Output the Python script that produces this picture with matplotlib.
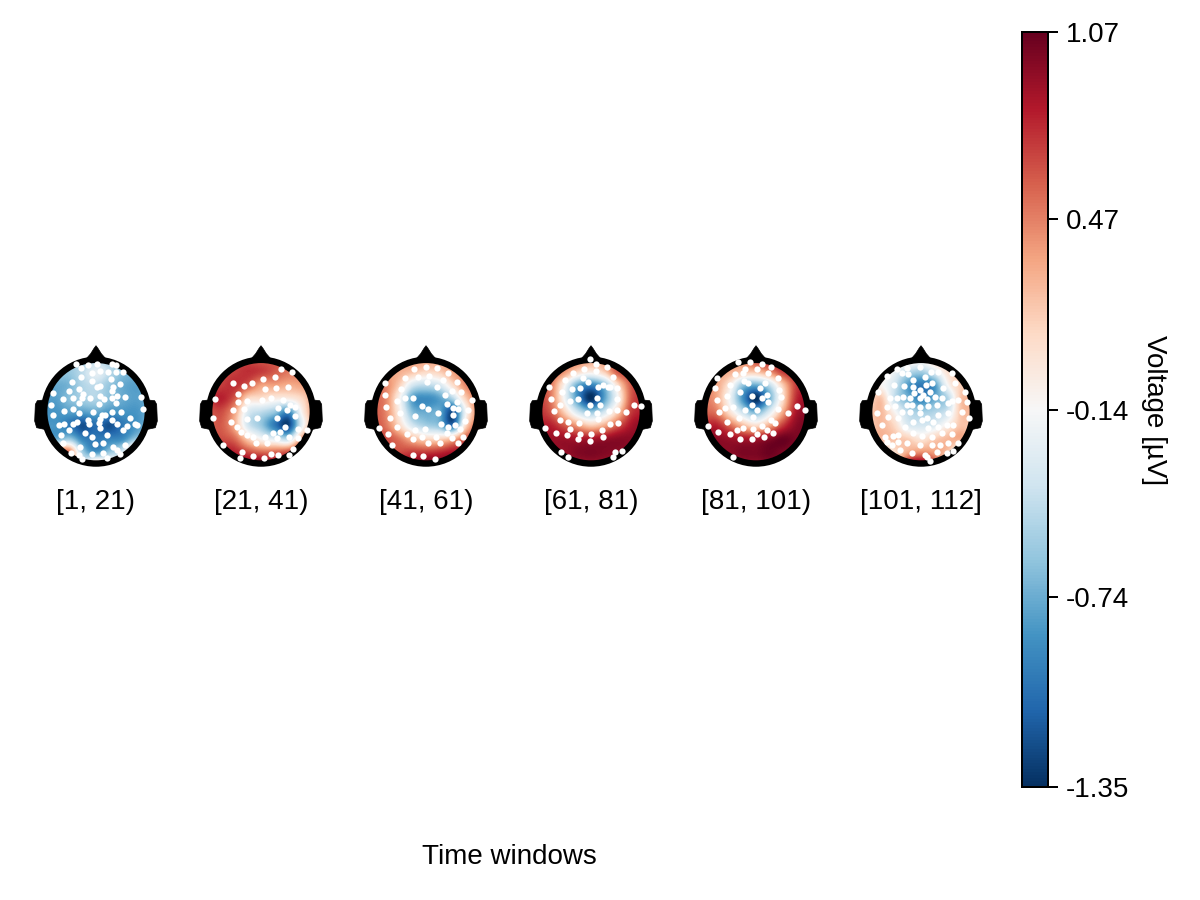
import numpy as np
import matplotlib
matplotlib.use("Agg")
import matplotlib.pyplot as plt
from matplotlib.patches import Circle, Polygon
from matplotlib.cm import ScalarMappable
from matplotlib.colors import Normalize

plt.rcParams['font.family'] = ['Liberation Sans', 'DejaVu Sans']

W, H = 1200, 900
VMIN, VMAX = -1.35, 1.07
CBAR_TICKS = [-1.35, -0.74, -0.14, 0.47, 1.07]
CBAR_LABELS = ['-1.35', '-0.74', '-0.14', '0.47', '1.07']
WINDOW_LABELS = ['[1, 21)', '[21, 41)', '[41, 61)', '[61, 81)', '[81, 101)', '[101, 112]']

FIELD_1 = [[-.6, -.6, -.6, -.55, -.5, -.55, -.6, -.6, -.6],
           [-.6, -.6, -.6, -.45, -.25, -.45, -.65, -.7, -.7],
           [-.75, -.75, -.7, -.5, -.45, -.6, -.75, -.8, -.75],
           [-.8, -.8, -.65, -.55, -.5, -.65, -.75, -.8, -.75],
           [-.85, -.85, -.8, -.8, -.75, -.85, -.85, -.85, -.75],
           [-.85, -.85, -1., -1.2, -1.05, -1.2, -1., -.85, -.7],
           [-.7, -.75, -.6, -.95, -1., -.95, -.9, -.6, -.5],
           [.35, .45, .5, -.55, -.85, -.6, -.35, .35, .3],
           [.45, .5, .35, -.25, .35, .1, -.3, .4, .4]]
FIELD_2 = [[.6, .6, .65, .65, .6, .6, .5, .4, .4],
           [.6, .65, .7, .75, .7, .6, .5, .45, .4],
           [.65, .7, .75, .6, .35, .35, .3, .35, .4],
           [.7, .8, .6, .1, .05, -.05, -.05, .1, .4],
           [.6, .65, .35, -.3, -.45, -.6, -.9, -.1, .4],
           [.55, .6, .3, -.35, -.6, -1., -1.25, -.25, .4],
           [.65, .65, .55, .15, -.15, -.3, -.45, .35, .7],
           [.8, .85, .8, .65, .55, .55, .65, .9, 1.],
           [.95, 1., 1., 1., 1.05, .85, .9, .95, 1.]]
FIELD_3 = [[.3, .3, .3, .35, .35, .35, .4, .45, .55],
           [.4, .35, .3, .2, .1, .15, .35, .5, .6],
           [.5, .45, .15, -.35, -.45, -.35, .05, .45, .6],
           [.55, .45, -.1, -.8, -.9, -.8, -.5, .15, .55],
           [.6, .45, -.05, -.65, -.75, -.75, -1.2, -.15, .5],
           [.65, .5, .1, -.35, -.55, -.65, -1.05, .1, .6],
           [.7, .65, .5, .25, .1, .1, .25, .6, .8],
           [.75, .6, .65, .7, .7, .75, .85, .95, 1.],
           [.85, .8, .9, .95, 1.05, 1., 1., 1., 1.]]
FIELD_4 = [[.5, .5, .55, .5, .35, .35, .6, .7, .7],
           [.6, .6, .4, .1, -.05, .15, .6, .7, .75],
           [.65, .5, -.1, -.75, -.95, -.65, .05, .6, .75],
           [.7, .5, -.15, -.85, -1.35, -.8, -.15, .6, .75],
           [.75, .6, .15, -.35, -.6, -.35, .15, .7, .8],
           [.8, .8, .6, .35, .15, .3, .6, .85, .95],
           [.9, .9, .9, .85, .85, .9, .95, .95, .9],
           [.9, .92, .92, .98, 1.0, .98, .95, .9, .85],
           [.9, .9, .88, .88, .9, .88, .85, .85, .85]]
FIELD_5 = [[.3, .3, .35, .4, .7, .8, .8, .8, .8],
           [.35, .35, .3, .2, .2, .4, .7, .8, .85],
           [.45, .35, .0, -.6, -.75, -.45, .15, .7, .85],
           [.5, .35, -.15, -.85, -1.35, -.75, .05, .75, .9],
           [.55, .5, .05, -.4, -.7, -.3, .3, .85, .95],
           [.75, .8, .55, .25, .05, .3, .7, .95, 1.],
           [.95, .95, .9, .85, .85, .95, 1.05, 1., .95],
           [.95, .95, .95, 1.0, 1.0, 1.05, 1., .95, .95],
           [.9, .9, .85, .9, .92, .95, .95, .95, .95]]
FIELD_6 = [[.05, .05, .1, .05, -.05, .1, .25, .3, .3],
           [.05, .05, -.2, -.45, -.55, -.3, .05, .25, .25],
           [.0, -.1, -.35, -.8, -1., -.85, -.15, .15, .05],
           [.05, .2, -.4, -.7, -.95, -.75, -.5, .2, .25],
           [.15, .25, -.1, -.45, -.55, -.5, -.35, .2, .25],
           [.15, .25, .1, -.3, -.35, -.3, -.05, .2, .15],
           [.25, .25, .2, .15, .0, .15, .25, .3, .05],
           [-.2, -.2, .05, .3, .4, .35, .2, -.3, -.45],
           [-.35, -.35, -.2, .9, 1.05, .7, -.1, -.4, -.4]]

# Significant electrodes, offsets from the head centre
SENS_1 = [(168,103),(204,105),(232,103),(276,103),(289,105),(183,115),(216,128),(240,122),(263,125),(288,127),(310,125),(182,140),(155,155),(216,153),(272,148),(300,162),(232,170),(240,168),(146,182),(178,178),(190,192),(280,172),(275,182),(98,190),(160,205),(185,203),(210,205),(240,198),(252,207),(275,205),(292,198),(315,200),(362,200),(130,207),(178,218),(92,224),(238,222),(288,220),(370,236),(132,243),(160,238),(178,248),(218,245),(245,255),(255,255),(275,245),(302,245),(98,254),(205,270),(172,275),(240,268),(275,270),(330,265),(118,285),(132,282),(148,300),(160,283),(208,282),(238,280),(240,295),(290,282),(320,288),(345,282),(350,285),(122,316),(195,310),(215,322),(262,315),(310,300),(128,340),(180,350),(225,342),(248,340),(280,350),(315,345),(152,368),(178,375),(215,372),(250,368),(262,385),(290,360),(300,372),(185,388)]
SENS_2 = [(783,117),(816,127),(730,148),(765,142),(697,160),(672,168),(638,160),(655,192),(735,178),(768,175),(805,172),(655,215),(680,212),(725,210),(752,205),(790,210),(810,225),(585,207),(640,240),(672,238),(825,230),(775,235),(578,265),(634,275),(680,268),(712,265),(770,265),(800,240),(825,258),(650,290),(662,305),(680,315),(700,320),(735,322),(760,310),(780,305),(795,290),(808,320),(833,298),(862,300),(835,325),(708,338),(740,340),(770,325),(818,357),(610,345),(665,365),(700,378),(733,383),(752,372),(775,375),(808,375),(660,385)]
SENS_3 = [(104,160),(228,112),(192,118),(262,115),(295,130),(203,140),(238,138),(165,143),(278,150),(320,155),(232,157),(260,172),(152,178),(190,205),(305,183),(333,187),(105,195),(140,213),(165,205),(285,195),(365,210),(320,215),(355,240),(108,230),(150,248),(215,228),(233,237),(290,222),(308,235),(325,238),(120,263),(195,258),(263,250),(310,255),(345,272),(272,283),(140,292),(195,300),(225,297),(295,290),(315,285),(330,298),(115,313),(170,312),(190,328),(215,320),(258,322),(290,310),(305,325),(338,322),(235,340),(270,338),(325,338),(188,376),(220,378),(255,387),(88,295),(125,345)]
SENS_4 = [(720,88),(738,102),(772,112),(703,118),(670,128),(738,122),(790,140),(645,150),(700,145),(715,155),(760,165),(775,170),(745,170),(690,175),(665,178),(598,172),(635,187),(630,225),(602,208),(660,213),(683,207),(740,203),(800,208),(780,172),(800,173),(750,225),(720,225),(612,243),(710,248),(740,248),(800,240),(777,243),(828,247),(852,225),(630,270),(655,275),(688,280),(745,268),(805,280),(780,282),(585,295),(618,308),(660,297),(650,315),(690,313),(722,313),(755,300),(760,322),(685,327),(720,332),(795,365),(815,362),(632,366),(653,380),(790,382),(872,228)]
SENS_5 = [(210,95),(175,97),(245,102),(273,112),(195,118),(232,118),(165,132),(190,130),(265,130),(295,143),(112,143),(150,165),(192,152),(255,160),(205,160),(240,175),(105,175),(298,180),(180,187),(140,198),(110,210),(262,195),(303,200),(217,197),(245,205),(135,233),(195,240),(215,225),(230,240),(265,215),(295,237),(118,245),(160,230),(350,227),(325,250),(376,240),(178,265),(140,275),(220,262),(272,270),(85,288),(190,295),(220,298),(245,288),(262,300),(285,280),(115,305),(150,312),(170,300),(180,326),(215,328),(232,313),(252,322),(280,308),(160,382)]
SENS_6 = [(650,118),(680,115),(720,110),(752,125),(775,125),(815,130),(665,130),(685,132),(620,137),(735,140),(700,150),(672,168),(700,172),(737,165),(755,160),(642,165),(825,158),(595,185),(720,180),(750,185),(702,190),(730,195),(790,175),(855,185),(630,205),(650,205),(668,200),(690,205),(720,205),(740,208),(765,200),(785,205),(815,212),(835,210),(860,215),(620,232),(645,228),(680,225),(695,225),(720,230),(745,228),(770,225),(805,220),(590,250),(625,260),(665,245),(690,245),(720,250),(740,265),(775,255),(805,248),(845,245),(605,285),(655,265),(700,275),(725,270),(760,275),(800,285),(820,285),(868,265),(675,290),(745,295),(775,292),(615,320),(640,318),(655,315),(700,310),(725,318),(755,320),(785,310),(815,312),(835,340),(620,335),(635,345),(655,335),(680,340),(720,345),(755,345),(780,345),(805,340),(660,360),(695,370),(735,375),(740,382),(770,365),(800,370),(820,362),(750,392)]

FIELDS = [FIELD_1, FIELD_2, FIELD_3, FIELD_4, FIELD_5, FIELD_6]
SENSORS = [SENS_1, SENS_2, SENS_3, SENS_4, SENS_5, SENS_6]
READ_ORIGIN_X = [228, 723, 228, 723, 228, 723]
READ_ORIGIN_Y = 245

CENTERS_X = [96, 261, 426, 591, 756, 921]
CENTER_Y = 411.7
HALF = 70          # axes half-width, px
U = 3.0            # data units per pixel

fig = plt.figure(figsize=(W / 100, H / 100), dpi=100, facecolor='white')
norm = Normalize(VMIN, VMAX)
cmap = 'RdBu_r'

for cx, field, sens, ox, label in zip(CENTERS_X, FIELDS, SENSORS, READ_ORIGIN_X, WINDOW_LABELS):
    ax = fig.add_axes([(cx - HALF) / W, 1 - (CENTER_Y + HALF) / H, 2 * HALF / W, 2 * HALF / H])
    ax.set_axis_off()
    im = ax.imshow(np.array(field), cmap=cmap, norm=norm, extent=(-180, 180, 180, -180),
                   interpolation='catrom', aspect='equal', zorder=1)
    im.set_clip_path(Circle((0, 0), 152, transform=ax.transData))
    # ears, nose, head outline
    for s in (-1, 1):
        ax.add_patch(Polygon([(s*150, -36), (s*176, -33), (s*182, -22), (s*184, 28), (s*178, 48), (s*150, 54)],
                             closed=True, fc='black', ec='black', lw=0.5, zorder=2))
    ax.add_patch(Polygon([(-30, -158), (-16, -174), (-6, -190), (0, -198), (6, -190), (16, -174), (30, -158)],
                         closed=True, fc='black', ec='black', lw=0.5, zorder=2))
    ax.add_patch(Circle((0, 0), 155.5, fc='none', ec='black', lw=4.6, zorder=3))
    pts = np.array(sens, dtype=float)
    ax.plot(pts[:, 0] - ox, pts[:, 1] - READ_ORIGIN_Y, ls='none', marker='o', ms=4.5,
            mfc='white', mec='white', mew=0, zorder=4, clip_on=False)
    ax.set_xlim(-HALF * U, HALF * U)
    ax.set_ylim(HALF * U, -HALF * U)
    fig.text(cx / W, 1 - 502 / H, label, ha='center', va='center', fontsize=20, color='black')

fig.text(509 / W, 1 - 857 / H, 'Time windows', ha='center', va='center', fontsize=20, color='black')

cax = fig.add_axes([1022 / W, 1 - 787 / H, 26 / W, 755 / H])
cb = fig.colorbar(ScalarMappable(norm=norm, cmap=cmap), cax=cax)
cb.set_ticks(CBAR_TICKS)
cb.set_ticklabels(CBAR_LABELS)
cb.minorticks_off()
cax.tick_params(axis='y', length=7.2, width=1.44, pad=5.5, labelsize=20, color='black')
cb.outline.set_linewidth(1.44)
cb.outline.set_edgecolor('black')
fig.text(1154 / W, 1 - 410 / H, 'Voltage [µV]', rotation=270, ha='center', va='center', fontsize=20, color='black')

fig.savefig('out.png', dpi=100)
